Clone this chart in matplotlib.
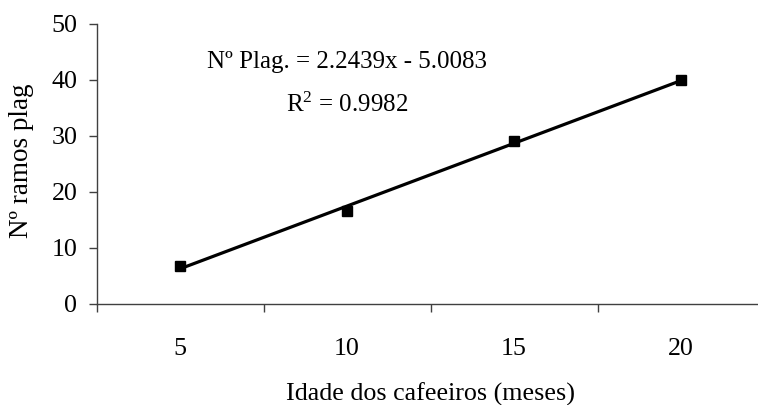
import numpy as np
import matplotlib.pyplot as plt

plt.rcParams['font.family'] = ['Liberation Serif', 'DejaVu Serif']
plt.rcParams['mathtext.fontset'] = 'custom'
plt.rcParams['mathtext.rm'] = 'Liberation Serif'
plt.rcParams['mathtext.it'] = 'Liberation Serif:italic'

idade = [5, 10, 15, 20]
ramos = [6.7, 16.6, 29.0, 39.9]
eq_text = 'Nº Plag. = 2.2439x - 5.0083'
r2_text = 'R$^\\mathrm{2}$ = 0.9982'

fs = 18.7

fig = plt.figure(figsize=(7.58, 4.05), dpi=100)
ax = fig.add_axes([0.1276, 0.25, 0.881, 0.6915])

pos = np.arange(len(idade))
# linear trendline on the real x values
a, b = np.polyfit(idade, ramos, 1)
xl = np.array([idade[0], idade[-1]])
ax.plot(pos[[0, -1]], a * xl + b, color='black', linewidth=2.3)
ax.plot(pos, ramos, linestyle='none', marker='s', markersize=7.5, color='black')

ax.set_xlim(-0.5, len(idade) - 0.5)
ax.set_ylim(0, 50)
ax.set_yticks(np.arange(0, 51, 10))

ax.set_xticks(np.arange(-0.5, len(idade), 1))
ax.set_xticklabels([])
ax.set_xticks(pos, minor=True)
ax.set_xticklabels([str(v) for v in idade], minor=True)
ax.tick_params(axis='x', which='major', length=6, width=1, color='#404040')
ax.tick_params(axis='x', which='minor', length=0, pad=25, labelsize=fs)
ax.tick_params(axis='y', length=6, width=1, color='#404040', pad=8, labelsize=fs)

for s in ['top', 'right']:
    ax.spines[s].set_visible(False)
for s in ['left', 'bottom']:
    ax.spines[s].set_color('#404040')
    ax.spines[s].set_linewidth(1)

ax.set_xlabel('Idade dos cafeeiros (meses)', fontsize=fs)
ax.xaxis.set_label_coords(0.5, -0.322)
ax.xaxis.label.set_va('center')
ax.set_ylabel('Nº ramos plag', fontsize=19.5)
ax.yaxis.set_label_coords(-0.112, 0.51)
ax.yaxis.label.set_va('center')

ax.text(1.0, 43.2, eq_text, fontsize=18, ha='center', va='center')
ax.text(1.0, 35.5, r2_text, fontsize=18, ha='center', va='center')

fig.savefig('out.png', dpi=100)
